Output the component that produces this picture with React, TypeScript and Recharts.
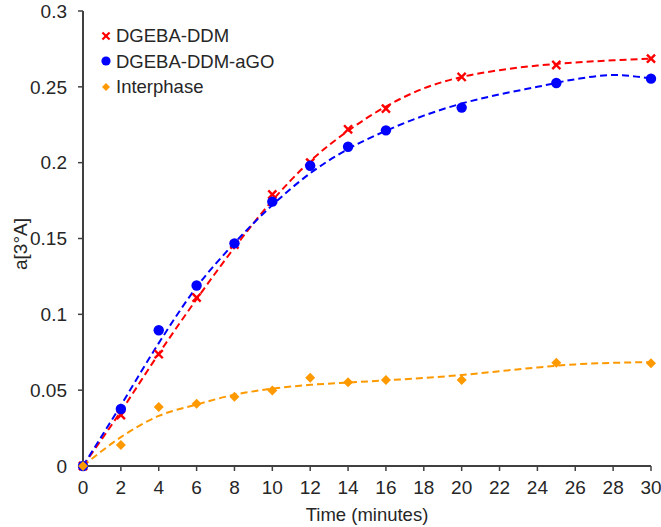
import React from 'react';
import { ComposedChart, Line, Scatter, XAxis, YAxis, Legend } from 'recharts';

// measured cure-degree points
const minutes = [0, 2, 4, 6, 8, 10, 12, 14, 16, 20, 25, 30];
const ddmValues = [0, 0.0336, 0.0737, 0.111, 0.146, 0.179, 0.2, 0.222, 0.2356, 0.2565, 0.2644, 0.2686];
const ddmAgoValues = [0, 0.0376, 0.0895, 0.119, 0.1468, 0.1743, 0.198, 0.2105, 0.2213, 0.2363, 0.2525, 0.2554];
const interphaseValues = [0, 0.0138, 0.0389, 0.0411, 0.0457, 0.0497, 0.0582, 0.0552, 0.0567, 0.0567, 0.0681, 0.0677];

// dashed polynomial trend curves, sampled every 2 minutes
const trendMinutes = [0, 2, 4, 6, 8, 10, 12, 14, 16, 18, 20, 22, 24, 26, 28, 30];
const ddmTrend = [0, 0.036, 0.074, 0.11, 0.144, 0.175, 0.201, 0.221, 0.237, 0.249, 0.2565, 0.261, 0.264, 0.266, 0.2675, 0.2685];
const ddmAgoTrend = [0, 0.04, 0.081, 0.118, 0.147, 0.172, 0.193, 0.209, 0.221, 0.231, 0.239, 0.245, 0.25, 0.255, 0.2578, 0.2555];
const interphaseTrend = [0, 0.019, 0.033, 0.0405, 0.047, 0.051, 0.0535, 0.055, 0.0565, 0.058, 0.06, 0.0625, 0.065, 0.067, 0.068, 0.0685];

const xTicks = [0, 2, 4, 6, 8, 10, 12, 14, 16, 18, 20, 22, 24, 26, 28, 30];
const yTicks = [0, 0.05, 0.1, 0.15, 0.2, 0.25, 0.3];

const RED = '#FF0000';
const BLUE = '#0000FF';
const ORANGE = '#FF9900';
const AXIS = '#404040';
const TEXT = '#262626';
const FONT = '"Liberation Sans", Arial, sans-serif';

const toPoints = (xs: number[], ys: number[]) => xs.map((x, i) => ({ x, y: ys[i] }));

const Cross = ({ cx, cy, r = 3.2, w = 2.4 }: any) => (
  <g stroke={RED} strokeWidth={w} strokeLinecap="square">
    <line x1={cx - r} y1={cy - r} x2={cx + r} y2={cy + r} />
    <line x1={cx - r} y1={cy + r} x2={cx + r} y2={cy - r} />
  </g>
);

const Dot = ({ cx, cy, r = 5.2 }: any) => <circle cx={cx} cy={cy} r={r} fill={BLUE} />;

const Diamond = ({ cx, cy, r = 5 }: any) => (
  <path d={`M${cx},${cy - r}L${cx + r},${cy}L${cx},${cy + r}L${cx - r},${cy}Z`} fill={ORANGE} />
);

const legendItems = [
  { name: 'DGEBA-DDM', marker: <Cross cx={7} cy={7} r={2.8} w={2.2} /> },
  { name: 'DGEBA-DDM-aGO', marker: <Dot cx={7} cy={7} r={4.6} /> },
  { name: 'Interphase', marker: <Diamond cx={7} cy={7} r={4} /> },
];

const LegendBox = () => (
  <div style={{ fontSize: 18.5, color: TEXT, lineHeight: '25.6px' }}>
    {legendItems.map(item => (
      <div key={item.name} style={{ display: 'flex', alignItems: 'center' }}>
        <svg width={14} height={14}>{item.marker}</svg>
        <span style={{ marginLeft: 3 }}>{item.name}</span>
      </div>
    ))}
  </div>
);

const YTitle = () => (
  <text
    x={0}
    y={0}
    transform="translate(27, 244) rotate(-90)"
    textAnchor="middle"
    fontSize={19}
    fill={TEXT}
  >
    a[3°A]
  </text>
);

const XTitle = () => (
  <text x={367} y={521} textAnchor="middle" fontSize={18.5} fill={TEXT}>
    Time (minutes)
  </text>
);

export default function App() {
  return (
    <div style={{ position: 'absolute', left: 0, top: 0, width: 661, height: 527, background: '#fff', fontFamily: FONT }}>
      <ComposedChart width={661} height={527} margin={{ top: 11, right: 10, bottom: 0, left: 0 }}>
        <XAxis
          type="number"
          dataKey="x"
          domain={[0, 30]}
          ticks={xTicks}
          interval={0}
          height={61}
          axisLine={{ stroke: AXIS, strokeWidth: 2 }}
          tickLine={{ stroke: AXIS, strokeWidth: 1.5 }}
          tickSize={5}
          tickMargin={10}
          tick={{ fontSize: 19, fill: TEXT }}
          label={<XTitle />}
        />
        <YAxis
          type="number"
          dataKey="y"
          domain={[0, 0.3]}
          ticks={yTicks}
          interval={0}
          width={83}
          axisLine={{ stroke: AXIS, strokeWidth: 2 }}
          tickLine={{ stroke: AXIS, strokeWidth: 1.5 }}
          tickSize={5}
          tickMargin={11}
          tick={{ fontSize: 19, fill: TEXT }}
          label={<YTitle />}
        />
        <Legend
          layout="vertical"
          align="center"
          verticalAlign="middle"
          content={<LegendBox />}
          wrapperStyle={{ left: 99, top: 23, width: 'auto', height: 'auto' }}
        />
        <Line data={toPoints(trendMinutes, ddmTrend)} dataKey="y" type="monotone" stroke={RED} strokeWidth={2} strokeDasharray="7 4" dot={false} activeDot={false} isAnimationActive={false} legendType="none" />
        <Line data={toPoints(trendMinutes, ddmAgoTrend)} dataKey="y" type="monotone" stroke={BLUE} strokeWidth={2} strokeDasharray="7 4" dot={false} activeDot={false} isAnimationActive={false} legendType="none" />
        <Line data={toPoints(trendMinutes, interphaseTrend)} dataKey="y" type="monotone" stroke={ORANGE} strokeWidth={2} strokeDasharray="7 4" dot={false} activeDot={false} isAnimationActive={false} legendType="none" />
        <Scatter name="DGEBA-DDM" data={toPoints(minutes, ddmValues)} dataKey="y" shape={<Cross />} isAnimationActive={false} />
        <Scatter name="DGEBA-DDM-aGO" data={toPoints(minutes, ddmAgoValues)} dataKey="y" shape={<Dot />} isAnimationActive={false} />
        <Scatter name="Interphase" data={toPoints(minutes, interphaseValues)} dataKey="y" shape={<Diamond />} isAnimationActive={false} />
      </ComposedChart>
    </div>
  );
}
